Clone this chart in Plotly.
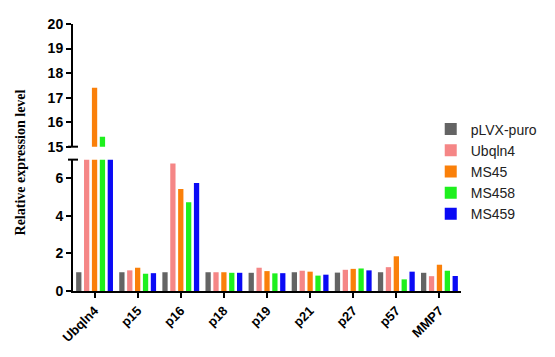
import plotly.graph_objects as go

categories = ["Ubqln4", "p15", "p16", "p18", "p19", "p21", "p27", "p57", "MMP7"]
series_names = ["pLVX-puro", "Ubqln4", "MS45", "MS458", "MS459"]
pLVX_puro = [1.0, 1.0, 1.0, 1.0, 0.97, 1.0, 0.98, 1.0, 0.97]
ubqln4 = [10.0, 1.1, 6.8, 1.0, 1.24, 1.08, 1.13, 1.27, 0.79]
ms45 = [17.4, 1.24, 5.43, 1.0, 1.06, 1.03, 1.18, 1.85, 1.4]
ms458 = [15.4, 0.92, 4.73, 0.97, 0.94, 0.82, 1.2, 0.62, 1.08]
ms459 = [12.0, 0.95, 5.75, 0.97, 0.95, 0.87, 1.1, 1.03, 0.8]
series_values = [pLVX_puro, ubqln4, ms45, ms458, ms459]
colors = ["#646464", "#F58686", "#FA800A", "#1EF01E", "#0A0AF5"]
lower_ticks = [0, 2, 4, 6]
upper_ticks = [15, 16, 17, 18, 19, 20]

fig = go.Figure()
for name, vals, col in zip(series_names, series_values, colors):
    fig.add_trace(go.Bar(x=categories, y=vals, name=name, marker_color=col,
                         marker_line_width=0, xaxis="x", yaxis="y"))
    fig.add_trace(go.Bar(x=categories, y=vals, name=name, marker_color=col,
                         marker_line_width=0, xaxis="x", yaxis="y2",
                         showlegend=False))

ytickfont = dict(family="Liberation Sans, Arial", size=14, color="black", weight="bold")
xtickfont = dict(family="Liberation Sans, Arial", size=13, color="black", weight="bold")
axcommon = dict(showline=True, linecolor="black", linewidth=2, ticks="outside",
                ticklen=5, tickwidth=2, tickcolor="black", showgrid=False,
                zeroline=False)

fig.update_layout(
    width=555, height=357,
    margin=dict(l=73, r=89, t=24, b=63),
    paper_bgcolor="white", plot_bgcolor="white",
    barmode="group", bargap=0.085, bargroupgap=0.33,
    showlegend=True,
    legend=dict(x=0.922, y=0.665, xanchor="left", yanchor="top",
                font=dict(family="Liberation Sans, Arial", size=14, color="#222222"),
                tracegroupgap=0, itemsizing="constant"),
    xaxis=dict(anchor="y", range=[-0.5, 8.5], tickangle=-45, tickfont=xtickfont, **axcommon),
    yaxis=dict(domain=[0, 0.492], range=[0, 7], tickvals=lower_ticks, anchor="x",
               tickfont=ytickfont, **axcommon),
    yaxis2=dict(domain=[0.5405, 1], range=[15, 20], tickvals=upper_ticks, anchor="x",
                tickfont=ytickfont, **axcommon),
    shapes=[
        dict(type="line", xref="paper", xsizemode="pixel", xanchor=0, x0=-5, x1=5,
             yref="y domain", y0=1, y1=1, line=dict(color="black", width=2)),
        dict(type="line", xref="paper", xsizemode="pixel", xanchor=0, x0=-5, x1=5,
             yref="y2 domain", y0=0, y1=0, line=dict(color="black", width=2)),
    ],
    annotations=[
        dict(text="<b>Relative expression level</b>", xref="paper", yref="paper",
             x=-0.135, y=0.48, xanchor="center", yanchor="middle", textangle=-90,
             showarrow=False, font=dict(family="Liberation Serif, Times New Roman", size=14, color="black"))
    ],
)
fig.write_html("out.html")
